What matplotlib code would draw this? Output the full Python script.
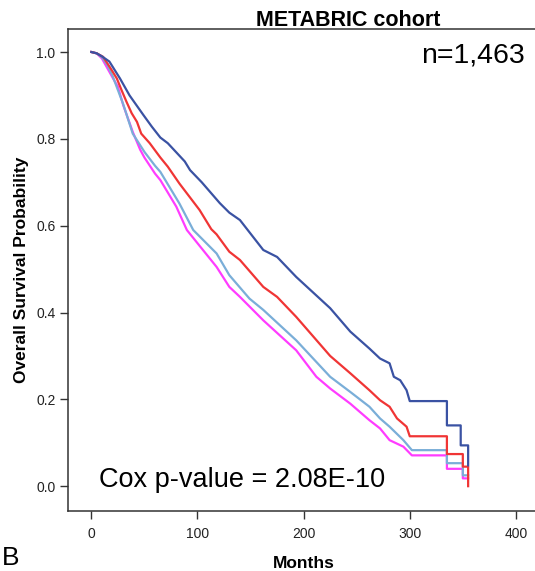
import matplotlib
matplotlib.use("Agg")
import matplotlib.pyplot as plt

plt.rcParams['font.family'] = ['Liberation Sans', 'DejaVu Sans']

# ---- data ----
blue_t = [0, 5, 10, 17, 27, 36, 49, 57, 65, 72, 88, 93, 104, 121, 130, 140, 162, 175, 193, 225, 244, 262, 272, 281, 285, 291, 297, 300, 335, 335, 348, 348, 355, 355]
blue_s = [1.0, 0.997, 0.99, 0.978, 0.939, 0.90, 0.855, 0.828, 0.803, 0.790, 0.748, 0.728, 0.70, 0.652, 0.630, 0.613, 0.544, 0.528, 0.482, 0.41, 0.356, 0.317, 0.294, 0.283, 0.252, 0.244, 0.221, 0.196, 0.196, 0.14, 0.14, 0.094, 0.094, 0.048]

red_t = [0, 5, 11, 14, 19, 24, 28.5, 33, 38, 43, 47, 55, 65, 72, 83, 102, 113, 118, 130, 140, 162, 175, 193, 225, 244, 262, 272, 281, 288, 297, 300, 335, 335, 350, 350, 355, 355]
red_s = [1.0, 0.997, 0.989, 0.978, 0.959, 0.939, 0.912, 0.886, 0.859, 0.839, 0.812, 0.790, 0.757, 0.736, 0.697, 0.636, 0.592, 0.580, 0.540, 0.521, 0.459, 0.436, 0.390, 0.300, 0.260, 0.221, 0.198, 0.183, 0.156, 0.137, 0.115, 0.115, 0.074, 0.074, 0.045, 0.045, 0.0]

lblue_t = [0, 5, 10, 15, 20, 30, 39, 50, 60, 65, 83, 96, 118, 130, 149, 162, 193, 225, 244, 262, 272, 281, 294, 302, 335, 335, 350, 350, 355]
lblue_s = [1.0, 0.997, 0.988, 0.970, 0.945, 0.880, 0.812, 0.770, 0.738, 0.724, 0.651, 0.590, 0.536, 0.486, 0.432, 0.406, 0.336, 0.252, 0.217, 0.183, 0.156, 0.137, 0.106, 0.083, 0.083, 0.053, 0.053, 0.025, 0.025]

mag_t = [0, 5, 10, 20.5, 25, 30, 39, 46, 50, 60, 65, 80, 90, 118, 130, 140, 162, 193, 212, 225, 244, 262, 272, 281, 294, 302, 335, 335, 350, 350, 355]
mag_s = [1.0, 0.997, 0.985, 0.939, 0.920, 0.878, 0.816, 0.775, 0.757, 0.720, 0.705, 0.644, 0.590, 0.505, 0.459, 0.436, 0.382, 0.313, 0.252, 0.225, 0.190, 0.152, 0.133, 0.106, 0.091, 0.071, 0.071, 0.040, 0.040, 0.018, 0.018]

x_ticks = [0, 100, 200, 300, 400]
y_ticks = [0.0, 0.2, 0.4, 0.6, 0.8, 1.0]
y_tick_labels = ["0.0", "0.2", "0.4", "0.6", "0.8", "1.0"]

title = "METABRIC cohort"
n_text = "n=1,463"
p_text = "Cox p-value = 2.08E-10"

# ---- figure ----
fig = plt.figure(figsize=(5.35, 5.71), dpi=100)
ax = fig.add_axes([68/535, 1-510.5/571, 1-68/535, (510.5-29)/571])

lw = 1.6
ax.plot(mag_t, mag_s, color='#ff3cff', lw=lw, zorder=2)
ax.plot(lblue_t, lblue_s, color='#7aaed8', lw=lw, zorder=3)
ax.plot(red_t, red_s, color='#f03535', lw=lw, zorder=4)
ax.plot(blue_t, blue_s, color='#3a52a3', lw=lw, zorder=5)

ax.set_xlim(-22, 418)
ax.set_ylim(-0.056, 1.053)
ax.set_xticks(x_ticks)
ax.set_yticks(y_ticks)
ax.set_yticklabels(y_tick_labels)
ax.tick_params(axis='both', direction='out', length=6, width=1.0, color='#333333',
               labelsize=10, labelcolor='#222222')
ax.tick_params(axis='x', pad=6)
ax.tick_params(axis='y', pad=3)
for s in ['left', 'bottom', 'top']:
    ax.spines[s].set_color('#333333')
    ax.spines[s].set_linewidth(1.1)
ax.spines['right'].set_visible(False)

fig.text(348/535, 1-25.5/571, title, ha='center', va='baseline', fontsize=15.5, fontweight='bold')
fig.text(525/535, 1-63/571, n_text, ha='right', va='baseline', fontsize=20.5)
fig.text(99/535, 1-487/571, p_text, ha='left', va='baseline', fontsize=19.5)
fig.text(303.5/535, 1-568/571, "Months", ha='center', va='baseline', fontsize=12.5, fontweight='bold')
fig.text(22/535, 1-270/571, "Overall Survival Probability", ha='center', va='center',
         rotation=90, fontsize=12.5, fontweight='bold')
fig.text(2/535, 1-565/571, "B", ha='left', va='baseline', fontsize=19)

fig.savefig("out.png", dpi=100)
